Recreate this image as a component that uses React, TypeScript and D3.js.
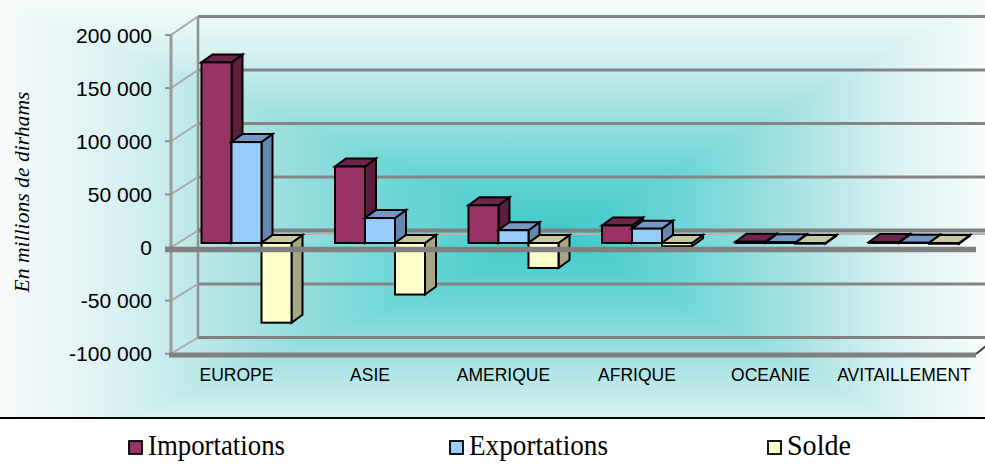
import React, { useEffect } from "react";
import * as d3 from "d3";

const categories = ["EUROPE", "ASIE", "AMERIQUE", "AFRIQUE", "OCEANIE", "AVITAILLEMENT"];
const importations = [170000, 72000, 35500, 16500, 1200, 900];
const exportations = [95000, 23500, 12000, 13500, 600, 200];
const solde = [-75000, -48500, -23500, -3000, -600, -700];
const seriesNames = ["Importations", "Exportations", "Solde"];
const tickValues = [-100000, -50000, 0, 50000, 100000, 150000, 200000];
const tickLabels = ["-100 000", "-50 000", "0", "50 000", "100 000", "150 000", "200 000"];
const gridValues = [-50000, 50000, 100000, 150000, 200000];
const yTitle = "En millions de dirhams";

const W = 985;
const H = 468;

const seriesColors = [
  { front: "#993366", top: "#6e2549", side: "#5a1d3b" },
  { front: "#99ccff", top: "#7399c8", side: "#6687ad" },
  { front: "#ffffcc", top: "#c9c9a0", side: "#a6a680" },
];

const legendX = [129, 450, 768];
const legendW = [137, 139, 64];

export default function App() {
  useEffect(() => {
    document.body.style.margin = "0";
  }, []);

  const yFront = d3.scaleLinear().domain([-100000, 200000]).range([353.75, 35]);
  const yBack = d3.scaleLinear().domain([-100000, 200000]).range([337.5, 16.5]);
  const yBar = d3.scaleLinear().domain([-100000, 200000]).range([349.25, 30.5]);
  const x = d3.scaleBand().domain(categories).range([169.75, 970.75]).padding(0);
  const inner = d3.scaleBand().domain(seriesNames).range([0, 90]).padding(0);

  const frontX = 171;
  const backX = 198;
  const barShiftX = 10;
  const dX = 11;
  const dY = -8;

  const series = [importations, exportations, solde];
  const cx = 560;
  const cy = 234;

  const stops = (
    <>
      <stop offset="0" stopColor="#f7fcfc" />
      <stop offset="0.2" stopColor="#dcf2f2" />
      <stop offset="0.45" stopColor="#a8e2e2" />
      <stop offset="0.7" stopColor="#6fd6d6" />
      <stop offset="1" stopColor="#3cc9c9" />
    </>
  );

  const bars: JSX.Element[] = [];
  categories.forEach((cat, ci) => {
    const gx = (x(cat) as number) + x.bandwidth() / 2 + barShiftX - 45;
    series.forEach((vals, si) => {
      const v = vals[ci];
      const bx = gx + (inner(seriesNames[si]) as number);
      const w = inner.bandwidth();
      const yTop = yBar(Math.max(v, 0));
      const yBot = yBar(Math.min(v, 0));
      const c = seriesColors[si];
      const top = [[bx, yTop], [bx + dX, yTop + dY], [bx + w + dX, yTop + dY], [bx + w, yTop]];
      const side = [[bx + w, yTop], [bx + w + dX, yTop + dY], [bx + w + dX, yBot + dY], [bx + w, yBot]];
      const pts = (p: number[][]) => p.map((q) => q.join(",")).join(" ");
      bars.push(
        <g key={`${ci}-${si}`} stroke="#000" strokeWidth={2} strokeLinejoin="miter">
          <polygon points={pts(side)} fill={c.side} />
          <polygon points={pts(top)} fill={c.top} />
          <rect x={bx} y={yTop} width={w} height={Math.max(yBot - yTop, 0.01)} fill={c.front} />
        </g>
      );
    });
  });

  return (
    <svg
      width={W}
      height={H}
      style={{ position: "absolute", left: 0, top: 0, display: "block" }}
      xmlns="http://www.w3.org/2000/svg"
    >
      <defs>
        <linearGradient id="gTop" gradientUnits="userSpaceOnUse" x1={0} y1={0} x2={0} y2={cy}>{stops}</linearGradient>
        <linearGradient id="gBot" gradientUnits="userSpaceOnUse" x1={0} y1={H} x2={0} y2={cy}>{stops}</linearGradient>
        <linearGradient id="gLeft" gradientUnits="userSpaceOnUse" x1={0} y1={0} x2={cx} y2={0}>{stops}</linearGradient>
        <linearGradient id="gRight" gradientUnits="userSpaceOnUse" x1={W} y1={0} x2={cx} y2={0}>{stops}</linearGradient>
      </defs>

      {/* background rectangular path gradient */}
      <polygon points={`0,0 ${W},0 ${cx},${cy}`} fill="url(#gTop)" stroke="url(#gTop)" strokeWidth={0.8} />
      <polygon points={`0,${H} ${W},${H} ${cx},${cy}`} fill="url(#gBot)" stroke="url(#gBot)" strokeWidth={0.8} />
      <polygon points={`0,0 0,${H} ${cx},${cy}`} fill="url(#gLeft)" stroke="url(#gLeft)" strokeWidth={0.8} />
      <polygon points={`${W},0 ${W},${H} ${cx},${cy}`} fill="url(#gRight)" stroke="url(#gRight)" strokeWidth={0.8} />

      {/* back wall gridlines */}
      {gridValues.map((v) => (
        <line key={`g${v}`} x1={backX} x2={W + 5} y1={yBack(v)} y2={yBack(v)} stroke="#858585" strokeWidth={3} />
      ))}
      {/* back floor edge */}
      <line x1={backX} x2={W + 5} y1={yBack(-100000)} y2={yBack(-100000)} stroke="#808080" strokeWidth={3} />
      {/* back wall left vertical edge */}
      <line x1={backX} x2={backX} y1={yBack(200000)} y2={yBack(-100000)} stroke="#909090" strokeWidth={2.5} />

      {/* left side wall slants */}
      {tickValues.map((v) => (
        <line key={`s${v}`} x1={frontX} x2={backX} y1={yFront(v)} y2={yBack(v)} stroke="#a8a8a8" strokeWidth={2} />
      ))}
      {/* front axis */}
      <line x1={frontX} x2={frontX} y1={yFront(200000)} y2={yFront(-100000)} stroke="#9a9a9a" strokeWidth={3} />
      {tickValues.map((v) => (
        <line key={`t${v}`} x1={165} x2={frontX} y1={yFront(v)} y2={yFront(v)} stroke="#909090" strokeWidth={2} />
      ))}

      {/* zero plane back line */}
      <line x1={backX} x2={W + 5} y1={yBack(0)} y2={yBack(0)} stroke="#808080" strokeWidth={4} />
      <line x1={backX} x2={W + 5} y1={yBack(0) + 3.5} y2={yBack(0) + 3.5} stroke="#b5b5b5" strokeWidth={2} />

      {/* floor front edge */}
      <line x1={169} x2={976} y1={355} y2={355} stroke="#808080" strokeWidth={5} />
      <line x1={976} x2={986} y1={354} y2={346} stroke="#404040" strokeWidth={2} />

      {/* bars */}
      {bars}

      {/* zero plane front edge */}
      <line x1={165} x2={976} y1={yFront(0) + 2} y2={yFront(0) + 2} stroke="#808080" strokeWidth={5.5} />

      {/* tick labels */}
      {tickValues.map((v, i) => (
        <text
          key={`l${v}`}
          x={152}
          y={yFront(v)}
          dy="0.36em"
          textAnchor="end"
          fontFamily="'Liberation Sans', Arial, sans-serif"
          fontSize={21}
          fill="#000"
        >
          {tickLabels[i]}
        </text>
      ))}

      {/* category labels */}
      {categories.map((c) => (
        <text
          key={`c${c}`}
          x={(x(c) as number) + x.bandwidth() / 2}
          y={381}
          textAnchor="middle"
          fontFamily="'Liberation Sans', Arial, sans-serif"
          fontSize={17.5}
          fill="#000"
        >
          {c}
        </text>
      ))}

      {/* y axis title */}
      <text
        transform="translate(29,192) rotate(-90)"
        textAnchor="middle"
        fontFamily="'Liberation Serif', 'Times New Roman', serif"
        fontStyle="italic"
        fontSize={21}
        textLength={201}
        lengthAdjust="spacingAndGlyphs"
        fill="#000"
      >
        {yTitle}
      </text>

      {/* legend area */}
      <rect x={0} y={419} width={W} height={H - 419} fill="#ffffff" />
      <line x1={0} x2={W} y1={418} y2={418} stroke="#000" strokeWidth={2} />
      {seriesNames.map((s, i) => (
        <g key={`lg${s}`}>
          <rect x={legendX[i]} y={441} width={13} height={13} fill={seriesColors[i].front} stroke="#000" strokeWidth={1.8} />
          <text
            x={legendX[i] + 19}
            y={455}
            fontFamily="'Liberation Serif', 'Times New Roman', serif"
            fontSize={29}
            textLength={legendW[i]}
            lengthAdjust="spacingAndGlyphs"
            fill="#000"
          >
            {s}
          </text>
        </g>
      ))}
    </svg>
  );
}
